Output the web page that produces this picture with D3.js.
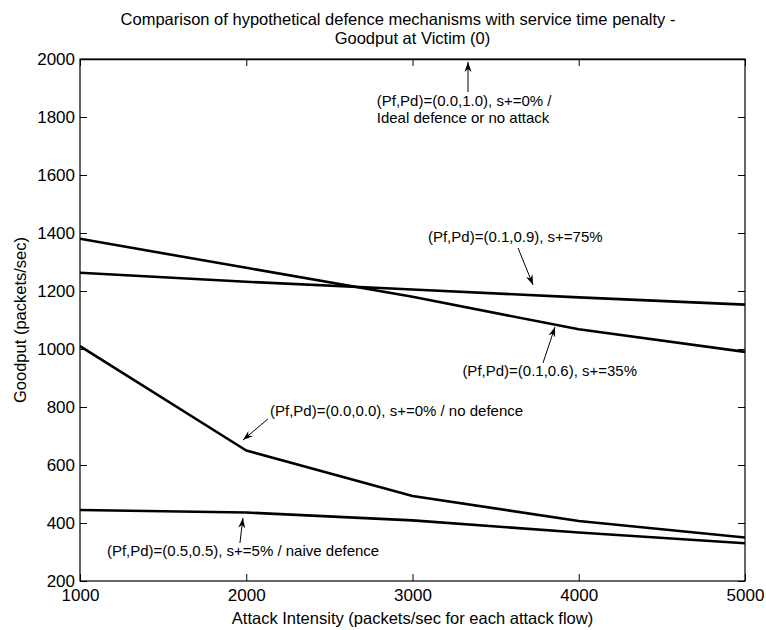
<!DOCTYPE html>
<html>
<head>
<meta charset="utf-8">
<script src="https://cdn.jsdelivr.net/npm/d3@7"></script>
<style>
  body { margin: 0; background: #fff; }
  text { font-family: "Liberation Sans", Arial, sans-serif; fill: #000; }
</style>
</head>
<body>
<div id="chart"></div>
<script>
// Goodput at victim for hypothetical defence mechanisms
const intensity = [1000, 2000, 3000, 4000, 5000];
const idealGoodput = [2000, 2000, 2000, 2000, 2000];
const pf01pd09 = [1263, 1232, 1205, 1178, 1153];
const pf01pd06 = [1380, 1280, 1180, 1068, 990];
const noDefence = [1010, 650, 493, 407, 350];
const naiveDefence = [445, 436, 409, 367, 330];

const xTicks = [1000, 2000, 3000, 4000, 5000];
const yTicks = [200, 400, 600, 800, 1000, 1200, 1400, 1600, 1800, 2000];

const series = [idealGoodput, pf01pd09, pf01pd06, noDefence, naiveDefence];

// annotation texts, placed in data units
const notes = [
  { lines: ["(Pf,Pd)=(0.0,1.0), s+=0% /", "Ideal defence or no attack"], at: [2785, 1838], from: [3334, 1886], to: [3334, 1990] },
  { lines: ["(Pf,Pd)=(0.1,0.9), s+=75%"], at: [3093, 1369], from: [3635, 1348], to: [3725, 1221] },
  { lines: ["(Pf,Pd)=(0.1,0.6), s+=35%"], at: [3300, 906], from: [3785, 952], to: [3857, 1076] },
  { lines: ["(Pf,Pd)=(0.0,0.0), s+=0% / no defence"], at: [2143, 769], from: [2131, 759], to: [1980, 686] },
  { lines: ["(Pf,Pd)=(0.5,0.5), s+=5% / naive defence"], at: [1162, 286], from: [1962, 331], to: [1980, 417] }
];

const width = 766, height = 630;
const margin = { top: 59, right: 21, bottom: 49, left: 80 };
const w = width - margin.left - margin.right;
const h = height - margin.top - margin.bottom;

const svg = d3.select("#chart").append("svg")
  .attr("width", width)
  .attr("height", height);

svg.append("defs").append("clipPath").attr("id", "clip")
  .append("rect").attr("width", w).attr("height", h);

svg.select("defs").append("marker")
  .attr("id", "arrow")
  .attr("markerUnits", "userSpaceOnUse")
  .attr("viewBox", "-10 -5 12 10")
  .attr("refX", 0).attr("refY", 0)
  .attr("markerWidth", 12).attr("markerHeight", 10)
  .attr("orient", "auto")
  .append("path")
  .attr("d", "M0,0 L-10,-3.5 L-7,0 L-10,3.5 Z")
  .attr("fill", "#000");

const g = svg.append("g").attr("transform", `translate(${margin.left},${margin.top})`);

const x = d3.scaleLinear().domain([1000, 5000]).range([0, w]);
const y = d3.scaleLinear().domain([200, 2000]).range([h, 0]);

// axes with inward ticks on all four sides
const tickLen = 7;
g.append("g").attr("transform", `translate(0,${h})`)
  .call(d3.axisBottom(x).tickValues(xTicks).tickSizeInner(-tickLen).tickSizeOuter(0).tickPadding(8).tickFormat(d3.format("d")))
  .call(a => a.selectAll("text").style("font-size", "17px"));
g.append("g")
  .call(d3.axisTop(x).tickValues(xTicks).tickSizeInner(-tickLen).tickSizeOuter(0).tickFormat(""));
g.append("g")
  .call(d3.axisLeft(y).tickValues(yTicks).tickSizeInner(-tickLen).tickSizeOuter(0).tickPadding(5).tickFormat(d3.format("d")))
  .call(a => a.selectAll("text").style("font-size", "17px"));
g.append("g").attr("transform", `translate(${w},0)`)
  .call(d3.axisRight(y).tickValues(yTicks).tickSizeInner(-tickLen).tickSizeOuter(0).tickFormat(""));
g.selectAll(".domain").remove();
g.selectAll(".tick line").attr("stroke", "#000");

g.append("rect")
  .attr("width", w).attr("height", h)
  .attr("fill", "none").attr("stroke", "#000").attr("stroke-width", 1.2);

// data lines
const line = d3.line().x((d, i) => x(intensity[i])).y(d => y(d));
g.append("g").attr("clip-path", "url(#clip)")
  .selectAll("path").data(series).join("path")
  .attr("d", line)
  .attr("fill", "none")
  .attr("stroke", "#000")
  .attr("stroke-width", 2.6)
  .attr("stroke-linejoin", "round");

// annotations
const ann = g.append("g");
notes.forEach(n => {
  ann.append("line")
    .attr("x1", x(n.from[0])).attr("y1", y(n.from[1]))
    .attr("x2", x(n.to[0])).attr("y2", y(n.to[1]))
    .attr("stroke", "#000").attr("stroke-width", 1)
    .attr("marker-end", "url(#arrow)");
  const t = ann.append("text")
    .attr("x", x(n.at[0])).attr("y", y(n.at[1]))
    .style("font-size", "15px");
  n.lines.forEach((s, i) => {
    t.append("tspan").attr("x", x(n.at[0])).attr("dy", i === 0 ? 0 : 17).text(s);
  });
});

// titles
svg.append("text")
  .attr("x", 398).attr("y", 25)
  .attr("text-anchor", "middle").style("font-size", "16.5px")
  .text("Comparison of hypothetical defence mechanisms with service time penalty -");
svg.append("text")
  .attr("x", margin.left + w / 2).attr("y", 44)
  .attr("text-anchor", "middle").style("font-size", "16.5px")
  .text("Goodput at Victim (0)");

svg.append("text")
  .attr("x", margin.left + w / 2).attr("y", 624)
  .attr("text-anchor", "middle").style("font-size", "16.5px")
  .text("Attack Intensity (packets/sec for each attack flow)");

svg.append("text")
  .attr("transform", `translate(26,${margin.top + h / 2}) rotate(-90)`)
  .attr("text-anchor", "middle").style("font-size", "16.5px")
  .text("Goodput (packets/sec)");
</script>
</body>
</html>
